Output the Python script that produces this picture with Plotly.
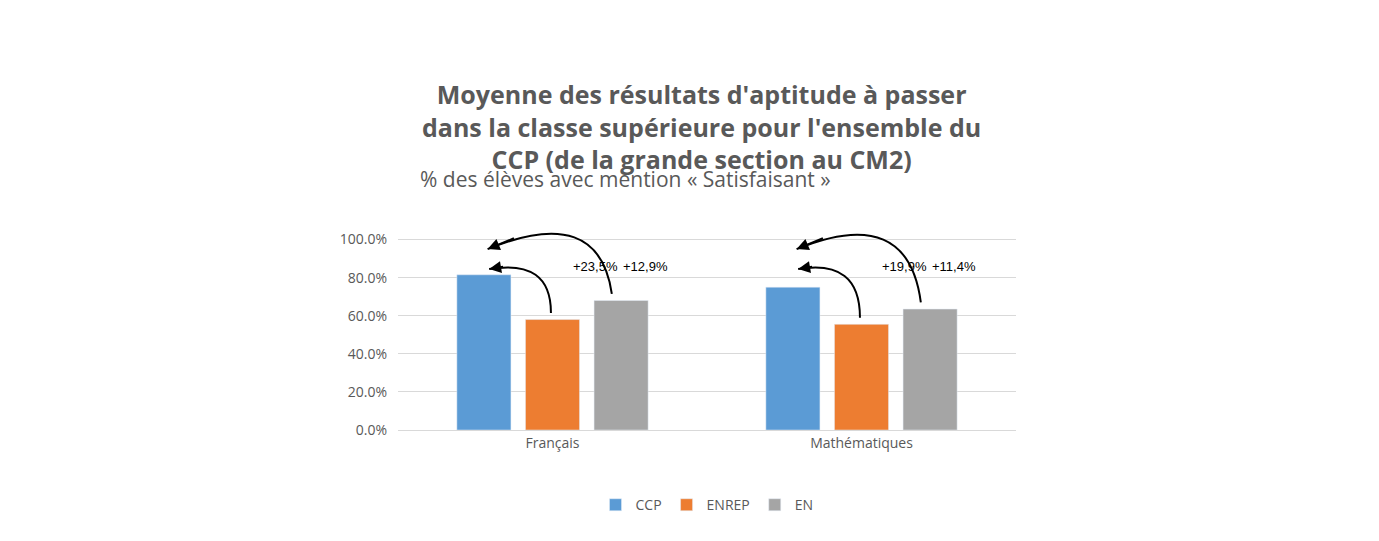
import plotly.graph_objects as go

subjects = ['Français', 'Mathématiques']
ccp = [81.5, 75.0]
enrep = [58.0, 55.5]
en = [68.0, 63.5]
gain_labels = [['+23,5%', '+12,9%'], ['+19,9%', '+11,4%']]
y_ticks = [0, 20, 40, 60, 80, 100]

W = 0.175
OFF = 0.222
xs = list(range(len(subjects)))

fig = go.Figure()
for name, vals, col, off in [('CCP', ccp, '#5B9BD5', -OFF),
                             ('ENREP', enrep, '#ED7D31', 0),
                             ('EN', en, '#A5A5A5', OFF)]:
    fig.add_trace(go.Bar(x=[x + off for x in xs], y=vals, width=W, name=name,
                         marker_color=col))

annots = []


def arrow(sx, sy, cx, cy, ex, ey):
    fig.add_shape(type='path', xref='x', yref='y',
                  path=f'M {sx},{sy} Q {cx},{cy} {ex},{ey}',
                  line=dict(color='black', width=2))
    annots.append(dict(x=ex, y=ey, ax=ex + 0.25 * (cx - ex), ay=ey + 0.25 * (cy - ey),
                       xref='x', yref='y', axref='x', ayref='y', text='',
                       showarrow=True, arrowhead=2, arrowsize=1.2, arrowwidth=2,
                       arrowcolor='black'))


for i in xs:
    # ENREP -> CCP
    arrow(i - 0.005, enrep[i] + 3.5, i - 0.005, 90, i - 0.205, 84.5)
    # EN -> CCP
    arrow(i + OFF - 0.03, en[i] + 3.5, i + 0.15, 119, i - 0.21, 95)
    for dx, txt in zip([0.14, 0.30], gain_labels[i]):
        annots.append(dict(x=i + dx, y=86, text=txt, showarrow=False, xref='x', yref='y',
                           font=dict(size=13, color='black', family='Liberation Sans')))

annots.append(dict(x=693, xref='paper', y=1.62, yref='paper', showarrow=False,
                   text="<b>Moyenne des résultats d'aptitude à passer<br>dans la classe supérieure pour l'ensemble du<br>CCP (de la grande section au CM2)</b>",
                   font=dict(size=25, color='#595959', family='Open Sans')))
annots[-1].update(x=(693 - 390) / 618)
annots.append(dict(x=(410 - 390) / 618, xref='paper', y=1.075, yref='paper', yanchor='bottom',
                   xanchor='left', showarrow=False,
                   text='% des élèves avec mention « Satisfaisant »',
                   font=dict(size=21, color='#595959', family='Open Sans')))

fig.update_layout(
    width=1379, height=541,
    margin=dict(l=390, r=371, t=203, b=119, autoexpand=False),
    paper_bgcolor='white', plot_bgcolor='white',
    font=dict(family='Open Sans', color='#595959', size=14),
    showlegend=True,
    legend=dict(orientation='h', x=0.5, xanchor='center', y=-0.27, yanchor='top',
                font=dict(size=14, color='#595959'), itemwidth=30),
    annotations=annots,
)
fig.update_xaxes(range=[-0.5, 1.5], tickvals=xs, ticktext=subjects, showgrid=False,
                 showline=True, linecolor='#D9D9D9', ticks='', tickfont=dict(size=14),
                 automargin=False)
fig.update_yaxes(range=[0, 115], tickvals=y_ticks, ticktext=[f'{v:.1f}%' for v in y_ticks],
                 gridcolor='#D9D9D9', zeroline=False, tickfont=dict(size=14),
                 ticklabelstandoff=10, automargin=False)
fig.write_html('out.html')
